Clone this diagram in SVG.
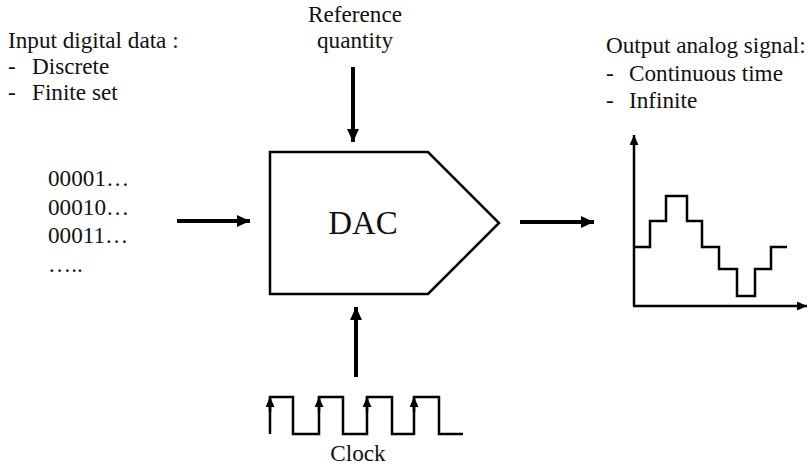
<svg xmlns="http://www.w3.org/2000/svg" width="809" height="469" viewBox="0 0 809 469">
  <style>
    text { font-family: "Liberation Serif", "Times New Roman", serif; fill: #111; }
    .lbl { font-size: 23.2px; }
    .big { font-size: 33px; }
    .thick { stroke: #000; stroke-width: 4; fill: none; }
    .thin { stroke: #000; stroke-width: 2.5; fill: none; }
  </style>
  <defs>
    <marker id="headBig" viewBox="0 0 13 12" refX="13" refY="6" markerWidth="13" markerHeight="12" markerUnits="userSpaceOnUse" orient="auto">
      <path d="M0,0 L13,6 L0,12 Z" fill="#000"/>
    </marker>
    <marker id="headSmall" viewBox="0 0 10 9" refX="10" refY="4.5" markerWidth="10" markerHeight="9" markerUnits="userSpaceOnUse" orient="auto">
      <path d="M0,0 L10,4.5 L0,9 Z" fill="#000"/>
    </marker>
  </defs>

  <rect width="809" height="469" fill="#fff"/>

  <!-- input description -->
  <g id="input-desc">
    <text class="lbl" x="8" y="48">Input digital data :</text>
    <text class="lbl" x="8" y="74">-</text>
    <text class="lbl" x="32" y="74">Discrete</text>
    <text class="lbl" x="8" y="100">-</text>
    <text class="lbl" x="32" y="100">Finite set</text>
  </g>

  <!-- input codes -->
  <g id="input-data">
    <text class="lbl" x="48" y="186">00001…</text>
    <text class="lbl" x="48" y="215">00010…</text>
    <text class="lbl" x="48" y="243">00011…</text>
    <text class="lbl" x="48" y="272">…..</text>
  </g>

  <!-- reference input -->
  <g id="reference">
    <text class="lbl" x="355" y="22" text-anchor="middle">Reference</text>
    <text class="lbl" x="355" y="48" text-anchor="middle">quantity</text>
  </g>

  <!-- converter block -->
  <g id="dac">
    <path d="M270,152 L428,152 L499,223 L428,294 L270,294 Z" fill="#fff" stroke="#000" stroke-width="2.5" stroke-linejoin="miter"/>
    <text class="big" x="363" y="234" text-anchor="middle">DAC</text>
  </g>

  <!-- clock signal -->
  <g id="clock">
    <path class="thin" d="M270,434 L270,397 L293,397 L293,434 L319,434 L319,397 L343,397 L343,434 L367,434 L367,397 L392,397 L392,434 L414,434 L414,397 L439,397 L439,434 L463,434"/>
    <g class="thin">
      <line x1="270" y1="412" x2="270" y2="397" marker-end="url(#headSmall)"/>
      <line x1="319" y1="412" x2="319" y2="397" marker-end="url(#headSmall)"/>
      <line x1="367" y1="412" x2="367" y2="397" marker-end="url(#headSmall)"/>
      <line x1="414" y1="412" x2="414" y2="397" marker-end="url(#headSmall)"/>
    </g>
    <text class="lbl" x="358" y="461" text-anchor="middle">Clock</text>
  </g>

  <!-- output description -->
  <g id="output-desc">
    <text class="lbl" x="606" y="53">Output analog signal:</text>
    <text class="lbl" x="606" y="81">-</text>
    <text class="lbl" x="629" y="81">Continuous time</text>
    <text class="lbl" x="606" y="108">-</text>
    <text class="lbl" x="629" y="108">Infinite</text>
  </g>

  <!-- output waveform -->
  <g id="output-plot">
    <line class="thin" x1="634" y1="306" x2="634" y2="135" marker-end="url(#headSmall)"/>
    <line class="thin" x1="633" y1="306" x2="807" y2="306" marker-end="url(#headSmall)"/>
    <path class="thin" d="M634,247 L650,247 L650,221 L666,221 L666,196 L687,196 L687,221 L702,221 L702,247 L719,247 L719,269 L737,269 L737,296 L755,296 L755,269 L771,269 L771,247 L787,247"/>
  </g>

  <!-- connectors -->
  <g id="connectors">
    <line class="thick" x1="177" y1="221" x2="250" y2="221" marker-end="url(#headBig)"/>
    <line class="thick" x1="353" y1="67" x2="353" y2="142" marker-end="url(#headBig)"/>
    <line class="thick" x1="356" y1="377" x2="356" y2="307" marker-end="url(#headBig)"/>
    <line class="thick" x1="520" y1="222" x2="594" y2="222" marker-end="url(#headBig)"/>
  </g>
</svg>
